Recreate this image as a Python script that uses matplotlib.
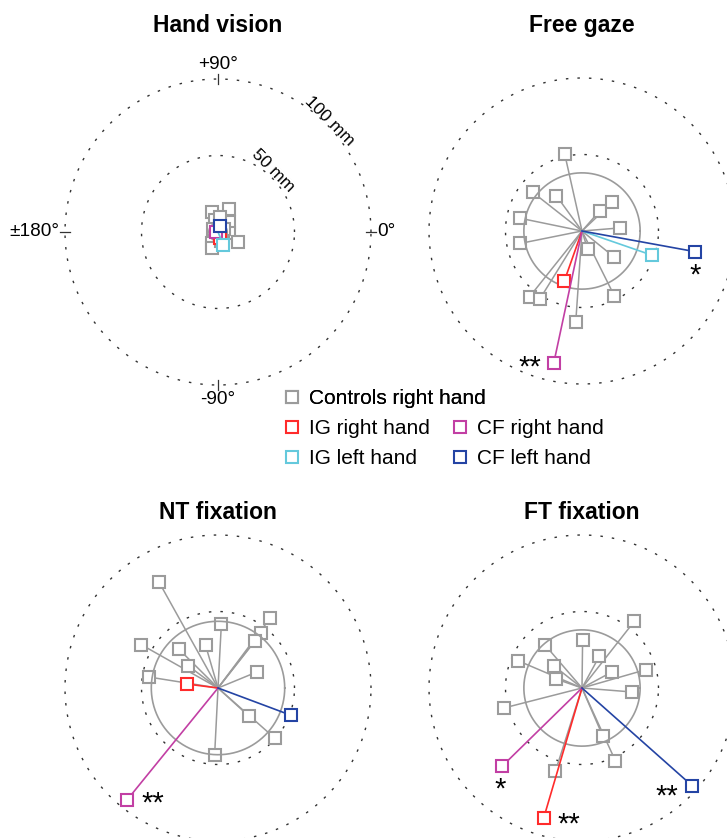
import matplotlib
matplotlib.use("Agg")
import matplotlib.pyplot as plt
from matplotlib.lines import Line2D
import numpy as np

W, H = 727, 838
PX_PER_MM = 1.53      # 100 mm ring is ~153 px in the reference
HALF_PX = 175         # half size of each panel's axes box, px

plt.rcParams["font.family"] = ["Liberation Sans", "DejaVu Sans"]

GRAY = "#9b9b9b"
RED = "#ff2b2b"
MAGENTA = "#c23fa4"
CYAN = "#64c9dc"
BLUE = "#2444a4"

titles = ["Hand vision", "Free gaze", "NT fixation", "FT fixation"]

# controls (right hand), end-point error in mm, x right / y up
hand_ctrl_x = [-4.1, 7.4, 7.2, 7.2, -3.9, 13.1, -3.9, 0.0, -2.0, 3.0, 1.0, -3.0, 4.0, 2.0]
hand_ctrl_y = [13.3, 14.8, 6.5, -0.7, -7.2, -6.5, -10.5, 4.0, 8.0, -3.0, 10.0, 2.0, 2.0, -6.0]
free_ctrl_x = [-11.3, -32.2, -16.8, -40.3, -40.3, 11.5, 19.8, 24.6, 3.7, 20.7, -34.2, -27.7, 21.1, -4.1]
free_ctrl_y = [50.3, 25.3, 23.1, 8.3, -8.1, 13.1, 18.7, 2.0, -12.0, -16.8, -42.9, -44.7, -42.3, -59.7]
nt_ctrl_x = [-38.6, -50.1, -25.7, -8.1, -19.6, -45.3, 2.2, 34.2, 28.3, 24.0, 25.5, 20.3, 37.0, -2.2]
nt_ctrl_y = [69.3, 28.3, 25.5, 27.9, 14.6, 7.2, 41.8, 45.8, 35.9, 30.9, 10.5, -18.5, -32.7, -43.6]
ft_ctrl_x = [34.2, 0.4, -24.0, 11.3, -42.0, -18.5, -17.0, 19.6, 41.8, 32.7, -51.2, 13.5, 21.8, -17.4]
ft_ctrl_y = [43.6, 31.6, 27.9, 20.7, 17.9, 14.6, 5.9, 10.5, 12.0, -2.6, -13.1, -31.2, -47.5, -54.5]

ctrl_x = [hand_ctrl_x, free_ctrl_x, nt_ctrl_x, ft_ctrl_x]
ctrl_y = [hand_ctrl_y, free_ctrl_y, nt_ctrl_y, ft_ctrl_y]

# radius of the controls' spread circle per panel, mm
spread_r = [6.0, 38.0, 43.6, 38.0]

# patients, one value per panel (nan = not shown)
ig_right_x = [1.3, -11.5, -20.3, -25.1]
ig_right_y = [-4.0, -32.5, 2.6, -85.2]
cf_right_x = [-1.5, -18.5, -59.3, -52.3]
cf_right_y = [0.2, -86.5, -73.0, -51.2]
ig_left_x = [3.5, 46.0, np.nan, np.nan]
ig_left_y = [-8.5, -15.9, np.nan, np.nan]
cf_left_x = [1.3, 73.9, 47.9, 71.9]
cf_left_y = [3.9, -13.5, -17.9, -63.8]

# drawing order (later on top)
patients = [
    ("IG right hand", RED, ig_right_x, ig_right_y),
    ("CF right hand", MAGENTA, cf_right_x, cf_right_y),
    ("IG left hand", CYAN, ig_left_x, ig_left_y),
    ("CF left hand", BLUE, cf_left_x, cf_left_y),
]
legend_order = ["IG right hand", "IG left hand", "CF right hand", "CF left hand"]

# significance marks: (panel, patient, text, offset in px)
stars = [
    (1, "CF left hand", "*", (0, -24)),
    (1, "CF right hand", "**", (-24, -4)),
    (2, "CF right hand", "**", (26, -4)),
    (3, "CF right hand", "*", (-2, -23)),
    (3, "IG right hand", "**", (25, -6)),
    (3, "CF left hand", "**", (-25, -11)),
]

rings = [50, 100]
ring_labels = ["50 mm", "100 mm"]
ring_label_pos = [(54, 48), (103, 45)]   # (radius mm, angle deg)

# layout, px
centers = [(218, 232), (582, 231), (218, 688), (582, 688)]
title_base = [32, 32, 519, 519]

fig = plt.figure(figsize=(W / 100, H / 100), dpi=100)
theta = np.linspace(0, 2 * np.pi, 721)
MS, MEW = 8, 1.5

for i, (cx, cy) in enumerate(centers):
    ax = fig.add_axes([(cx - HALF_PX) / W, 1 - (cy + HALF_PX) / H,
                       2 * HALF_PX / W, 2 * HALF_PX / H])
    lim = HALF_PX / PX_PER_MM
    ax.set_xlim(-lim, lim)
    ax.set_ylim(-lim, lim)
    ax.axis("off")

    for r in rings:
        ax.plot(r * np.cos(theta), r * np.sin(theta), color="#333333",
                lw=1.0, dashes=(1.8, 6.5), clip_on=False)

    for x, y in zip(ctrl_x[i], ctrl_y[i]):
        ax.plot([0, x], [0, y], color=GRAY, lw=1.1, zorder=2)
    ax.plot(ctrl_x[i], ctrl_y[i], "s", ms=MS, mew=MEW, mfc="white",
            mec=GRAY, zorder=3)
    ax.plot(spread_r[i] * np.cos(theta), spread_r[i] * np.sin(theta),
            color=GRAY, lw=1.2, zorder=3)

    pts = {}
    for k, (name, col, px, py) in enumerate(patients):
        x, y = px[i], py[i]
        if np.isnan(x):
            continue
        pts[name] = (x, y)
        ax.plot([0, x], [0, y], color=col, lw=1.2, zorder=4 + k)
        ax.plot([x], [y], "s", ms=MS, mew=MEW, mfc="white", mec=col,
                zorder=4 + k, clip_on=False)

    for p, name, txt, off in stars:
        if p == i:
            ax.annotate(txt, pts[name], xytext=off, textcoords="offset pixels",
                        ha="center", va="center", fontsize=21)

    if i == 0:
        # angle ticks and labels on the 100 mm ring
        for a in [0, 90, 180, 270]:
            t = np.deg2rad(a)
            ax.plot([97 * np.cos(t), 103 * np.cos(t)],
                    [97 * np.sin(t), 103 * np.sin(t)], color="#333333", lw=0.9)
        ax.text(0, 104, "+90°", ha="center", va="bottom", fontsize=13.7)
        ax.text(0, -104, "-90°", ha="center", va="top", fontsize=13.7)
        ax.text(-104, 0, "±180°", ha="right", va="center", fontsize=13.7)
        ax.text(104, 0, "0°", ha="left", va="center", fontsize=13.7)
        for lab, (r, a) in zip(ring_labels, ring_label_pos):
            t = np.deg2rad(a)
            ax.text(r * np.cos(t), r * np.sin(t), lab, ha="center",
                    va="center", rotation=-45, rotation_mode="anchor",
                    fontsize=12.5)

    fig.text(cx / W, 1 - title_base[i] / H, titles[i], ha="center",
             va="baseline", fontsize=16.5, fontweight="bold")


def handle(col):
    return Line2D([], [], marker="s", ls="none", ms=MS, mew=MEW,
                  mfc="white", mec=col)


colour_of = {name: col for name, col, _, _ in patients}
leg_kw = dict(frameon=False, fontsize=15, handlelength=0.8,
              handletextpad=0.4, borderpad=0, borderaxespad=0,
              labelspacing=0.55, loc="upper left")
leg1 = fig.legend([handle(GRAY)], ["Controls right hand"],
                  bbox_to_anchor=(284 / W, 1 - 389 / H), **leg_kw)
fig.add_artist(leg1)
fig.legend([handle(colour_of[n]) for n in legend_order], legend_order,
           ncol=2, columnspacing=1.05,
           bbox_to_anchor=(284 / W, 1 - 419 / H), **leg_kw)

fig.savefig("out.png", dpi=100)
